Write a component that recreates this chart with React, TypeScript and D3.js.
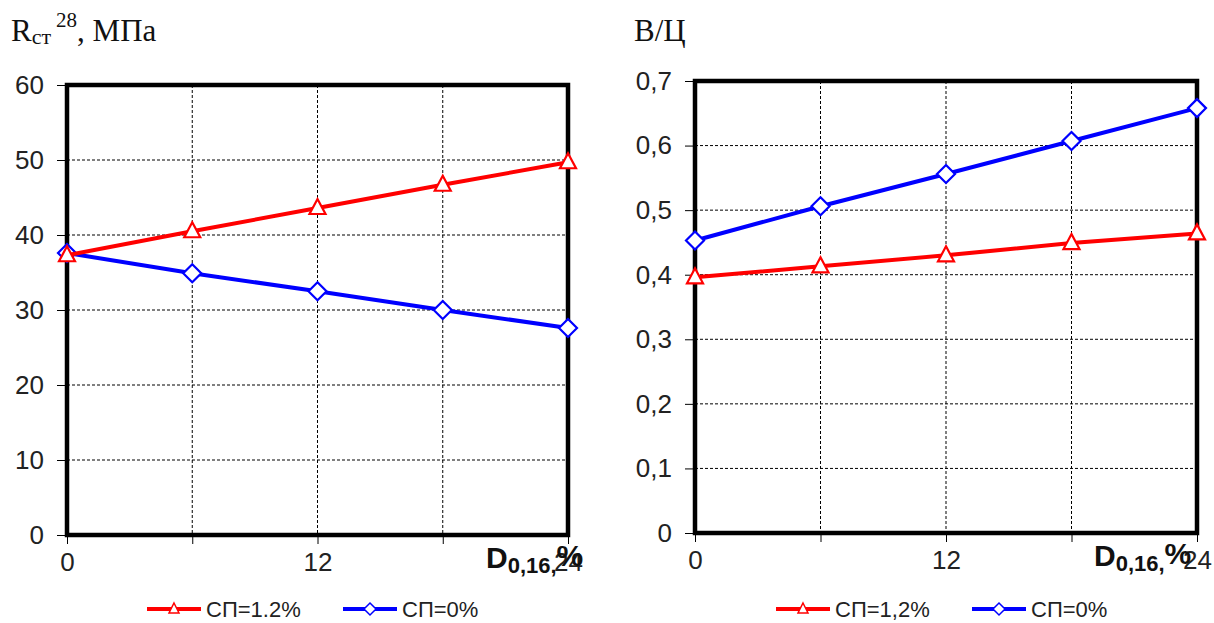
import { useEffect, useRef } from "react";
import * as d3 from "d3";

// shared x values, D0,16 %
const xValues = [0, 6, 12, 18, 24];
const xTickLabels = [0, 12, 24];

// left chart: Rст28, MPa
const strengthSp12 = [37.3, 40.5, 43.6, 46.7, 49.7];
const strengthSp0 = [37.6, 34.9, 32.5, 30.0, 27.6];
const strengthTicks = [0, 10, 20, 30, 40, 50, 60];

// right chart: В/Ц
const wcSp12 = [0.396, 0.413, 0.43, 0.449, 0.464];
const wcSp0 = [0.453, 0.506, 0.556, 0.607, 0.658];
const wcTicks = [0, 0.1, 0.2, 0.3, 0.4, 0.5, 0.6, 0.7];

const RED = "#ff0000";
const BLUE = "#0000ff";

const triPath = "M0,-9L8,6L-8,6Z";
const diaPath = "M0,-9L9,0L0,9L-9,0Z";

function drawPanel(svg, opts) {
  const { left, right, top, bottom, yMax, yTicks, fmt, red, blue, redLabel, blueLabel, legendX, dX } = opts;
  const g = svg.append("g");
  const x = d3.scaleLinear().domain([0, 24]).range([left, right]);
  const y = d3.scaleLinear().domain([0, yMax]).range([bottom, top]);

  // grid
  g.selectAll(".hg")
    .data(yTicks.slice(1, -1))
    .enter()
    .append("line")
    .attr("x1", left).attr("x2", right)
    .attr("y1", (d) => y(d)).attr("y2", (d) => y(d))
    .attr("stroke", "#000").attr("stroke-width", 1).attr("stroke-dasharray", "3,2");
  g.selectAll(".vg")
    .data(xValues.slice(1, -1))
    .enter()
    .append("line")
    .attr("x1", (d) => x(d)).attr("x2", (d) => x(d))
    .attr("y1", top).attr("y2", bottom)
    .attr("stroke", "#000").attr("stroke-width", 1).attr("stroke-dasharray", "3,2");

  // axes
  const ya = g.append("g").attr("transform", `translate(${left},0)`)
    .call(d3.axisLeft(y).tickValues(yTicks).tickSize(10).tickPadding(13).tickFormat(fmt));
  ya.select(".domain").remove();
  ya.attr("font-size", 26).attr("font-family", "Liberation Sans, Arial, sans-serif");
  ya.selectAll("text").attr("fill", "#222");
  ya.selectAll("line").attr("stroke", "#000");

  const xa = g.append("g").attr("transform", `translate(0,${bottom})`)
    .call(d3.axisBottom(x).tickValues(xValues).tickSize(9).tickPadding(9)
      .tickFormat((d) => (xTickLabels.includes(d) ? String(d) : "")));
  xa.select(".domain").remove();
  xa.attr("font-size", 26).attr("font-family", "Liberation Sans, Arial, sans-serif");
  xa.selectAll("text").attr("fill", "#222");
  xa.selectAll("line").attr("stroke", "#000");

  // frame
  g.append("rect")
    .attr("x", left).attr("y", top)
    .attr("width", right - left).attr("height", bottom - top)
    .attr("fill", "none").attr("stroke", "#000").attr("stroke-width", 4.5);

  const line = d3.line().x((d, i) => x(xValues[i])).y((d) => y(d));

  [[blue, BLUE, diaPath], [red, RED, triPath]].forEach(([vals, col, mk]) => {
    g.append("path").datum(vals).attr("d", line)
      .attr("fill", "none").attr("stroke", col).attr("stroke-width", 4);
    g.selectAll(null).data(vals).enter().append("path")
      .attr("d", mk)
      .attr("transform", (d, i) => `translate(${x(xValues[i])},${y(d)})`)
      .attr("fill", "#fff").attr("stroke", col).attr("stroke-width", 2.2);
  });

  // axis title D0,16,%
  const dt = g.append("text")
    .attr("x", dX).attr("y", bottom + 33)
    .attr("font-family", "Liberation Sans, Arial, sans-serif")
    .attr("font-weight", "bold").attr("fill", "#111");
  dt.append("tspan").attr("font-size", 30).text("D");
  dt.append("tspan").attr("font-size", 22).attr("dy", 5).text("0,16,");
  dt.append("tspan").attr("font-size", 30).attr("dy", -7).text("%");

  // legend
  const items = [
    { label: redLabel, col: RED, mk: "M0,-6L5,4L-5,4Z", x0: legendX },
    { label: blueLabel, col: BLUE, mk: "M0,-6L6,0L0,6L-6,0Z", x0: legendX + 196 },
  ];
  const ly = 609;
  items.forEach((it) => {
    g.append("line").attr("x1", it.x0).attr("x2", it.x0 + 54)
      .attr("y1", ly).attr("y2", ly).attr("stroke", it.col).attr("stroke-width", 4);
    g.append("path").attr("d", it.mk).attr("transform", `translate(${it.x0 + 27},${ly})`)
      .attr("fill", "#fff").attr("stroke", it.col).attr("stroke-width", 1.5);
    g.append("text").attr("x", it.x0 + 59).attr("y", ly + 8)
      .attr("font-family", "Liberation Sans, Arial, sans-serif").attr("font-size", 22)
      .attr("fill", "#222").text(it.label);
  });
}

export default function App() {
  const svgRef = useRef(null);

  useEffect(() => {
    const svg = d3.select(svgRef.current);
    svg.selectAll("*").remove();

    drawPanel(svg, {
      left: 67, right: 568, top: 85, bottom: 535,
      yMax: 60, yTicks: strengthTicks, fmt: (d) => String(d),
      red: strengthSp12, blue: strengthSp0,
      redLabel: "СП=1.2%", blueLabel: "СП=0%",
      legendX: 147, dX: 486,
    });
    drawPanel(svg, {
      left: 695, right: 1197, top: 81, bottom: 533,
      yMax: 0.7, yTicks: wcTicks, fmt: (d) => (d === 0 ? "0" : d3.format(".1f")(d).replace(".", ",")),
      red: wcSp12, blue: wcSp0,
      redLabel: "СП=1,2%", blueLabel: "СП=0%",
      legendX: 776, dX: 1094,
    });

    // titles
    const t1 = svg.append("text").attr("x", 11).attr("y", 41)
      .attr("font-family", "Liberation Serif, Times New Roman, serif").attr("font-size", 31).attr("fill", "#111");
    t1.append("tspan").text("R");
    t1.append("tspan").attr("font-size", 22).attr("dy", 3).text("ст");
    t1.append("tspan").attr("font-size", 21).attr("dx", 5).attr("dy", -17).text("28");
    t1.append("tspan").attr("dy", 14).text(", МПа");

    svg.append("text").attr("x", 634).attr("y", 41)
      .attr("font-family", "Liberation Serif, Times New Roman, serif").attr("font-size", 31).attr("fill", "#111")
      .text("В/Ц");
  }, []);

  return (
    <svg
      ref={svgRef}
      width={1214}
      height={623}
      style={{ position: "absolute", left: 0, top: 0, background: "#fff" }}
    />
  );
}
